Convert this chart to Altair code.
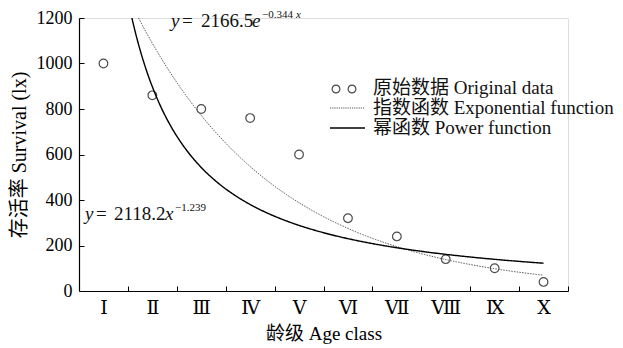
import json
import altair as alt
import pandas as pd

# ---- data ----
age_classes = ["Ⅰ", "Ⅱ", "Ⅲ", "Ⅳ", "Ⅴ", "Ⅵ", "Ⅶ", "Ⅷ", "Ⅸ", "Ⅹ"]
age_index = [1, 2, 3, 4, 5, 6, 7, 8, 9, 10]
survival = [1000, 860, 800, 760, 600, 320, 240, 140, 100, 40]
y_ticks = [0, 200, 400, 600, 800, 1000, 1200]
band_edges = [1.5, 2.5, 3.5, 4.5, 5.5, 6.5, 7.5, 8.5, 9.5, 10.5]

# fitted curves (from equations printed on the chart)
exp_a, exp_b = 2166.5, -0.344
pow_a, pow_b = 2118.2, -1.239

FONT = "Liberation Serif, DejaVu Serif, Noto Sans CJK SC"
W, H = 489, 273

df = pd.DataFrame({"age": age_index, "lx": survival})
one = pd.DataFrame({"k": [0]})

xscale = alt.Scale(domain=[0.5, 10.5], nice=False, zero=False)
yscale = alt.Scale(domain=[0, 1200], nice=False, zero=True)

label_expr = json.dumps(age_classes, ensure_ascii=False) + "[datum.value - 1]"

x_main = alt.Axis(orient="bottom", values=age_index, labelExpr=label_expr, ticks=False,
                  domain=True, domainColor="black", domainWidth=1.2, grid=False,
                  labelFont=FONT, labelFontSize=19, labelColor="black", labelPadding=7,
                  title="龄级 Age class", titleFont=FONT, titleFontSize=19,
                  titleFontWeight="normal", titleColor="black", titlePadding=7)
y_main = alt.Axis(orient="left", values=y_ticks, format="d", ticks=False, domain=True,
                  domainColor="black", domainWidth=1.2, grid=False,
                  labelFont=FONT, labelFontSize=18, labelColor="black", labelPadding=7,
                  title="存活率 Survival (lx)", titleFont=FONT, titleFontSize=20,
                  titleFontWeight="normal", titleColor="black", titlePadding=7)
x_ticks_ax = alt.Axis(orient="bottom", values=band_edges, labels=False, domain=False,
                      ticks=True, tickSize=5, tickColor="black", tickWidth=1,
                      offset=-5, title=None, grid=False)
y_ticks_ax = alt.Axis(orient="left", values=y_ticks[1:], labels=False, domain=False,
                      ticks=True, tickSize=5, tickColor="black", tickWidth=1,
                      offset=-5, title=None, grid=False)

points = alt.Chart(df).mark_point(shape="circle", filled=False, color="black",
                                  size=75, strokeWidth=1.2).encode(
    x=alt.X("age:Q", scale=xscale, axis=x_main),
    y=alt.Y("lx:Q", scale=yscale, axis=y_main),
)

curve_base = alt.Chart(alt.sequence(1.4, 10.001, 0.02, as_="t")).transform_calculate(
    power=f"{pow_a} * pow(datum.t, {pow_b})",
    expo=f"{exp_a} * exp({exp_b} * datum.t)",
)

expo_line = curve_base.mark_line(color="#555555", strokeWidth=1, strokeDash=[1.5, 1.2],
                                 clip=True).encode(
    x=alt.X("t:Q", scale=xscale, axis=x_ticks_ax),
    y=alt.Y("expo:Q", scale=yscale, axis=y_ticks_ax),
)
power_line = curve_base.mark_line(color="black", strokeWidth=1.4, clip=True).encode(
    x=alt.X("t:Q", scale=xscale, axis=None),
    y=alt.Y("power:Q", scale=yscale, axis=None),
)

def txt(s, x, y, size=19, style="normal", color="#111111", baseline="alphabetic"):
    return alt.Chart(one).mark_text(text=s, font=FONT, fontSize=size, fontStyle=style,
                                    align="left", baseline=baseline, color=color).encode(
        x=alt.value(x), y=alt.value(y))

ox, oy = 79, 18  # view origin in page pixels
layers = [points, expo_line, power_line]

# exponential equation
eb = 27 - oy
layers += [txt("y", 171 - ox, eb, style="italic"), txt("=", 182 - ox, eb),
           txt("2166.5", 201 - ox, eb), txt("e", 252 - ox, eb, style="italic"),
           txt("−0.344", 262 - ox, eb - 9, size=11), txt("x", 296 - ox, eb - 9, size=11, style="italic")]
# power equation
pb = 220 - oy
layers += [txt("y", 85 - ox, pb, style="italic"), txt("=", 96 - ox, pb),
           txt("2118.2", 114 - ox, pb), txt("x", 165 - ox, pb, style="italic"),
           txt("−1.239", 175 - ox, pb - 9, size=11)]

# legend
lg_y = [88 - oy, 108 - oy, 128 - oy]
for cx in (336 - ox, 352 - ox):
    layers.append(alt.Chart(one).mark_point(shape="circle", filled=False, color="black",
                                            size=60, strokeWidth=1.2).encode(
        x=alt.value(cx), y=alt.value(lg_y[0] + 1)))
layers.append(alt.Chart(one).mark_rule(color="#555555", strokeWidth=1, strokeDash=[1.2, 1]).encode(
    x=alt.value(330 - ox), x2=alt.value(365 - ox), y=alt.value(lg_y[1])))
layers.append(alt.Chart(one).mark_rule(color="black", strokeWidth=1.4).encode(
    x=alt.value(330 - ox), x2=alt.value(365 - ox), y=alt.value(lg_y[2])))
for s, yy in zip(["原始数据 Original data", "指数函数 Exponential function", "幂函数 Power function"], lg_y):
    layers.append(txt(s, 373 - ox, yy, size=19, baseline="middle"))

chart = alt.layer(*layers).resolve_axis(x="independent", y="independent").properties(
    width=W, height=H, autosize="none",
    padding={"left": 71, "top": 10, "right": 623 - 16 - 71 - W, "bottom": 340 - 10 - H},
).configure_view(stroke=None).configure(background="white")

chart.save("out.html", embed_options={"renderer": "svg", "actions": False})
